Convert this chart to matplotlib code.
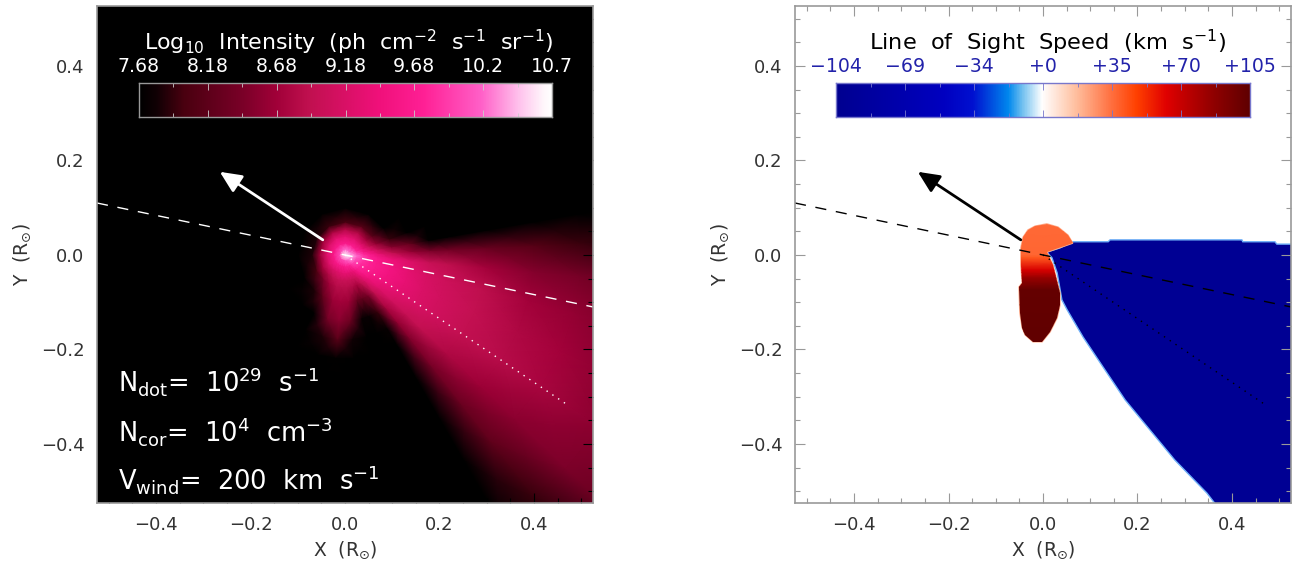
import numpy as np
import matplotlib
matplotlib.use('Agg')
import matplotlib.pyplot as plt
from matplotlib.colors import LinearSegmentedColormap
from matplotlib.patches import Polygon

W, H = 1301, 563
b = 7.68

# log10 intensity, on a polar grid around the origin
r_nodes = [0, .012, .025, .04, .055, .07, .1, .14, .18, .22, .3, .4, .5, .65, .8]
theta_nodes = [-180, -150, -130, -118, -105, -95, -85, -75, -68, -60, -52, -44, -34,
               -24, -14, -5, 3, 10, 20, 35, 60, 90, 120, 150, 180]
log_intensity = [
    [10.7, 10.0, 9.6, 9.2, 8.6, 7.85, b, b, b, b, b, b, b, b, b],
    [10.7, 10.0, 9.6, 9.2, 8.7, 8.0, b, b, b, b, b, b, b, b, b],
    [10.7, 10.0, 9.6, 9.2, 8.8, 8.45, 7.85, b, b, b, b, b, b, b, b],
    [10.7, 10.0, 9.6, 9.2, 8.9, 8.7, 8.2, b, b, b, b, b, b, b, b],
    [10.7, 10.0, 9.6, 9.25, 9.0, 8.85, 8.65, 8.4, 7.85, b, b, b, b, b, b],
    [10.7, 10.0, 9.6, 9.3, 9.0, 8.85, 8.7, 8.55, 8.15, 7.7, b, b, b, b, b],
    [10.7, 10.1, 9.7, 9.3, 9.0, 8.85, 8.65, 8.3, 7.8, b, b, b, b, b, b],
    [10.7, 10.1, 9.7, 9.3, 9.0, 8.8, 8.25, 7.75, b, b, b, b, b, b, b],
    [10.7, 10.1, 9.7, 9.3, 9.0, 8.7, 8.2, 7.75, b, b, b, b, b, b, b],
    [10.7, 10.2, 9.8, 9.4, 9.15, 8.9, 8.4, 7.95, 7.75, b, b, b, b, b, b],
    [10.7, 10.2, 9.9, 9.6, 9.4, 9.2, 8.95, 8.75, 8.6, 8.5, 8.4, 8.3, 8.2, 7.95, 7.75],
    [10.7, 10.3, 9.95, 9.75, 9.6, 9.45, 9.25, 9.1, 9.0, 8.95, 8.8, 8.65, 8.55, 8.45, 8.2],
    [10.7, 10.3, 10.0, 9.8, 9.7, 9.6, 9.45, 9.3, 9.2, 9.1, 8.95, 8.85, 8.75, 8.55, 8.4],
    [10.7, 10.35, 10.05, 9.85, 9.75, 9.65, 9.5, 9.35, 9.2, 9.1, 8.95, 8.8, 8.7, 8.5, 8.35],
    [10.7, 10.4, 10.1, 9.9, 9.75, 9.65, 9.5, 9.3, 9.15, 9.05, 8.9, 8.7, 8.6, 8.4, 8.25],
    [10.7, 10.4, 10.2, 9.95, 9.75, 9.6, 9.4, 9.2, 9.0, 8.9, 8.7, 8.5, 8.4, 8.2, 8.1],
    [10.7, 10.4, 10.1, 9.8, 9.55, 9.3, 8.9, 8.6, 8.4, 8.35, 8.25, 8.1, 7.95, 7.75, b],
    [10.7, 10.3, 10.0, 9.6, 9.3, 9.0, 8.5, 8.2, 7.7, b, b, b, b, b, b],
    [10.7, 10.3, 9.8, 9.4, 8.95, 8.6, 7.95, b, b, b, b, b, b, b, b],
    [10.7, 10.2, 9.7, 9.25, 8.7, 8.15, b, b, b, b, b, b, b, b, b],
    [10.7, 10.2, 9.65, 9.25, 8.8, 8.1, b, b, b, b, b, b, b, b, b],
    [10.7, 10.2, 9.65, 9.3, 8.8, 8.0, b, b, b, b, b, b, b, b, b],
    [10.7, 10.1, 9.65, 9.3, 8.75, 7.95, b, b, b, b, b, b, b, b, b],
    [10.7, 10.0, 9.6, 9.2, 8.65, 7.85, b, b, b, b, b, b, b, b, b],
    [10.7, 10.0, 9.6, 9.2, 8.6, 7.85, b, b, b, b, b, b, b, b, b],
]

# outlines of the line of sight speed regions
blue_x = [.008, .036, .063, .138, .142, .421, .423, .491, .495, .53, .53, .367, .347, .279,
          .226, .174, .131, .085, .051, .040, .030, .019]
blue_y = [.006, .015, .028, .028, .032, .032, .028, .028, .023, .023, -.53, -.53, -.504, -.434,
          -.370, -.307, -.243, -.174, -.116, -.095, -.038, -.006]
red_x = [-.047, -.042, -.032, -.017, .008, .032, .053, .063, .008, .021, .036, .036, .030, .015,
         -.002, -.021, -.038, -.044, -.049, -.051, -.044, -.047]
red_y = [.015, .038, .053, .061, .066, .059, .042, .025, .006, -.021, -.080, -.106, -.133, -.163,
         -.184, -.184, -.169, -.154, -.123, -.068, -.059, -.021]
red_speed_y = [.07, 0, -.006, -.032, -.049, -.074, -.2]
red_speed = [37, 38, 42, 65, 85, 103, 105]
blue_speed = -100

int_labels = ['7.68', '8.18', '8.68', '9.18', '9.68', '10.2', '10.7']
speed_labels = ['\u2212104', '\u221269', '\u221234', '+0', '+35', '+70', '+105']
ticks = [-0.4, -0.2, 0.0, 0.2, 0.4]
tick_labels = ['\u22120.4', '\u22120.2', '0.0', '0.2', '0.4']
minor_ticks = [i * 0.05 for i in range(-10, 11)]

dash_x = [-.525, .525]
dash_y = [.11, -.11]
dot_x = [0, .475]
dot_y = [0, -.32]
arrow_from = (-.047, .032)
arrow_to = (-.265, .176)

int_cmap = LinearSegmentedColormap.from_list('intensity', [
    (0, '#000000'), (.04, '#100004'), (.108, '#4a0010'), (.25, '#7a0028'), (.33, '#a00038'),
    (.41, '#c0104f'), (.58, '#f0107a'), (.69, '#ff2095'), (.83, '#ff60c8'), (.92, '#ffc0ec'),
    (.98, '#fff5fb'), (1, '#ffffff')])
speed_cols = [(-104, '#000090'), (-50, '#0000c0'), (-35, '#0010d0'), (-17, '#0088ee'), (-10, '#70c0f0'),
              (0, '#ffffff'), (17, '#ffc0a0'), (35, '#ff7040'), (48, '#ff4000'), (63, '#e00000'),
              (87, '#900000'), (105, '#600000')]
speed_cmap = LinearSegmentedColormap.from_list('speed', [((v + 104) / 209, c) for v, c in speed_cols])

plt.rcParams['font.family'] = 'DejaVu Sans'
plt.rcParams['mathtext.default'] = 'regular'
plt.rcParams['mathtext.fontset'] = 'dejavusans'


def px_axes(fig, left, top, right, bottom):
    return fig.add_axes([left / W, 1 - bottom / H, (right - left) / W, (bottom - top) / H])


def setup_axes(ax, tick_col):
    ax.set_xlim(-.525, .525)
    ax.set_ylim(-.525, .527)
    ax.set_xticks(ticks, tick_labels)
    ax.set_yticks(ticks, tick_labels)
    ax.set_xticks(minor_ticks, minor=True)
    ax.set_yticks(minor_ticks, minor=True)
    ax.tick_params(which='major', direction='in', length=7.5, width=.8, color=tick_col, top=True, right=True,
                   labelsize=13, labelcolor='#333333', pad=9)
    ax.tick_params(which='minor', direction='in', length=3.5, width=.8, color=tick_col, top=True, right=True)
    for s in ax.spines.values():
        s.set_color('#999999')
        s.set_linewidth(1.2)
    ax.set_xlabel('X  (R$_{\\odot}$)', fontsize=13.5, color='#333333', labelpad=4)
    ax.set_ylabel('Y  (R$_{\\odot}$)', fontsize=13.5, color='#333333', labelpad=6)


def draw_overlay(ax, col):
    ax.plot(dash_x, dash_y, color=col, lw=1, linestyle=(0, (8, 7)))
    ax.plot(dot_x, dot_y, color=col, lw=1, linestyle=(0, (1, 4)))
    ax.annotate('', xy=arrow_to, xytext=arrow_from,
                arrowprops=dict(arrowstyle='-|>,head_length=1.3,head_width=.6', mutation_scale=10,
                                color=col, lw=2, shrinkA=0, shrinkB=0))


def draw_colorbar(fig, left, right, cmap, edge, tick_col, labels, lab_col):
    cax = px_axes(fig, left, 83, right, 117)
    cax.imshow(np.linspace(0, 1, 512).reshape(1, -1), cmap=cmap, aspect='auto', extent=[0, 12, 0, 1])
    cax.set_xticks(range(0, 13, 2))
    cax.set_xticks(range(1, 12, 2), minor=True)
    cax.set_yticks([])
    cax.set_xticklabels([])
    cax.tick_params(which='major', direction='in', length=5, width=.6, color=tick_col, top=True)
    cax.tick_params(which='minor', direction='in', length=3, width=.6, color=tick_col, top=True)
    for s in cax.spines.values():
        s.set_color(edge)
        s.set_linewidth(1)
    for i, lab in enumerate(labels):
        fig.text((left + (right - left) * i / 6) / W, 1 - 66 / H, lab, fontsize=13.6, color=lab_col,
                 ha='center', va='center')


fig = plt.figure(figsize=(W / 100, H / 100), dpi=100)

# intensity panel
ax1 = px_axes(fig, 97, 6, 593, 503)
ax1.set_facecolor('black')
th, rr = np.meshgrid(np.radians(theta_nodes), r_nodes, indexing='ij')
ax1.pcolormesh(rr * np.cos(th), rr * np.sin(th), np.array(log_intensity), cmap=int_cmap, vmin=7.68, vmax=10.7,
               shading='gouraud', rasterized=True)
setup_axes(ax1, 'black')
draw_overlay(ax1, 'white')
draw_colorbar(fig, 139, 552, int_cmap, '#999999', '#cccccc', int_labels, 'white')
fig.text(349 / W, 1 - 42 / H, 'Log$_{10}$  Intensity  (ph  cm$^{-2}$  s$^{-1}$  sr$^{-1}$)', fontsize=15.9,
         color='white', ha='center', va='center')
for txt, base in [('N$_{dot}$=  10$^{29}$  s$^{-1}$', 392), ('N$_{cor}$=  10$^{4}$  cm$^{-3}$', 441),
                  ('V$_{wind}$=  200  km  s$^{-1}$', 489)]:
    fig.text(118 / W, 1 - base / H, txt, fontsize=18.5, color='white', ha='left', va='baseline')

# speed panel
ax2 = px_axes(fig, 795, 6, 1291, 503)
ax2.add_patch(Polygon(np.column_stack([blue_x, blue_y]), closed=True, facecolor=speed_cmap((blue_speed + 104) / 209),
                      edgecolor='#6fb0f8', lw=1))
red_poly = Polygon(np.column_stack([red_x, red_y]), closed=True, facecolor='none', edgecolor='#ffb090', lw=1)
ax2.add_patch(red_poly)
sx, sy = np.meshgrid([-.1, .1], red_speed_y)
mesh = ax2.pcolormesh(sx, sy, np.column_stack([red_speed, red_speed]), cmap=speed_cmap, vmin=-104, vmax=105,
                      shading='gouraud', rasterized=True)
mesh.set_clip_path(red_poly)
setup_axes(ax2, '#999999')
draw_overlay(ax2, 'black')
draw_colorbar(fig, 836, 1250, speed_cmap, '#7777cc', '#7777cc', speed_labels, '#2222aa')
fig.text(1047 / W, 1 - 42 / H, 'Line  of  Sight  Speed  (km  s$^{-1}$)', fontsize=16.2, color='black',
         ha='center', va='center')

fig.savefig('out.png', dpi=100)
